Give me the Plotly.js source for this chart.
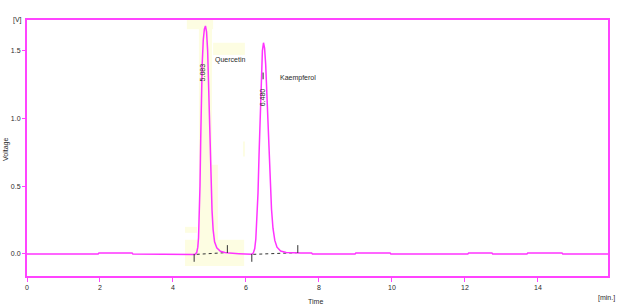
<!DOCTYPE html>
<html>
<head>
<meta charset="utf-8">
<script src="https://cdn.plot.ly/plotly-3.0.1.min.js"></script>
<style>html,body{margin:0;padding:0;background:#fff;}#chart{width:623px;height:307px;}</style>
</head>
<body>
<div id="chart"></div>
<script>
// Chromatogram signal (time in min, voltage in V)
const timeMin = [0, 1.95, 1.97, 2.88, 2.9, 4.45, 4.5,
  4.60, 4.65, 4.68, 4.70, 4.72, 4.74, 4.76, 4.78, 4.80, 4.83, 4.86, 4.89, 4.92, 4.95, 4.98,
  5.01, 5.04, 5.07, 5.10, 5.14, 5.20, 5.30, 5.42, 5.55, 5.8, 6.1,
  6.15, 6.20, 6.24, 6.27, 6.30, 6.33, 6.36, 6.39, 6.42, 6.45, 6.48, 6.51, 6.54, 6.58, 6.62,
  6.66, 6.70, 6.74, 6.79, 6.85, 6.95, 7.10, 7.30, 7.5,
  7.8, 7.82, 8.99, 9.01, 9.95, 9.97, 12.08, 12.1, 12.74, 12.76, 13.70, 13.72, 14.66, 14.68, 15.92];
const voltage = [0, 0, 0.006, 0.006, 0, 0, -0.004,
  -0.004, 0.01, 0.05, 0.12, 0.25, 0.5, 0.85, 1.15, 1.40, 1.58, 1.66, 1.684, 1.64, 1.50, 1.20,
  0.85, 0.55, 0.32, 0.18, 0.09, 0.045, 0.02, 0.011, 0.006, 0.002, 0,
  -0.003, 0.006, 0.04, 0.11, 0.24, 0.45, 0.75, 1.05, 1.32, 1.50, 1.56, 1.52, 1.40, 1.15, 0.85,
  0.55, 0.33, 0.19, 0.10, 0.05, 0.022, 0.011, 0.007, 0.006,
  0.006, 0, 0, 0.006, 0.006, 0, 0, 0.006, 0.006, 0, 0, 0.006, 0.006, 0, 0];

// Peaks
const peakNames = ["Quercetin", "Kaempferol"];
const retentionLabels = ["5.083", "6.480"];
const peakStart = [4.58, 6.16];
const peakEnd = [5.49, 7.42];
const baseStartX = [4.65, 6.20];
const baseStartY = [-0.003, -0.003];
const baseEndX = [5.42, 7.39];
const baseEndY = [0.009, 0.009];
const nameX = [5.09, 6.88];
const nameY = [1.432, 1.30];
const rtX = [4.82, 6.45];
const rtY = [1.34, 1.16];
const apexMarkX = [6.47];
const apexMarkY = [1.315];

const xTicks = [0, 2, 4, 6, 8, 10, 12, 14];
const yTicks = [0.0, 0.5, 1.0, 1.5];

const MAG = '#ff44ff';
const TXT = '#2a2a2a';
const FONT = 'Liberation Sans, Arial, sans-serif';

const traces = [];
// integration baselines (dotted)
for (let i = 0; i < peakNames.length; i++) {
  traces.push({x: [baseStartX[i], baseEndX[i]], y: [baseStartY[i], baseEndY[i]], mode: 'lines',
    line: {color: '#333', width: 1, dash: 'dot'}, hoverinfo: 'skip', showlegend: false});
}
// main signal
traces.push({x: timeMin, y: voltage, mode: 'lines', line: {color: '#ff33ff', width: 1.5},
  hoverinfo: 'skip', showlegend: false});
// start / end markers
const mx = [], my = [];
const TL = 0.058;
for (let i = 0; i < peakStart.length; i++) {
  mx.push(peakStart[i], peakStart[i], null); my.push(0, -TL, null);
  mx.push(peakEnd[i], peakEnd[i], null); my.push(0.007, 0.007 + TL, null);
}
for (let i = 0; i < apexMarkX.length; i++) {
  mx.push(apexMarkX[i], apexMarkX[i], null); my.push(apexMarkY[i] - 0.025, apexMarkY[i] + 0.025, null);
}
traces.push({x: mx, y: my, mode: 'lines', line: {color: '#333', width: 1}, hoverinfo: 'skip', showlegend: false});

// faint yellow highlight boxes behind the first peak
const Y = '#fdfde2';
const boxes = [
  [4.71, 5.07, -0.081, 1.70],
  [4.38, 5.10, 1.66, 1.73],
  [5.10, 5.97, 1.47, 1.56],
  [4.96, 5.23, 0.104, 0.659],
  [4.33, 4.66, 0.156, 0.20],
  [4.33, 5.95, -0.089, 0.104],
  [5.92, 5.97, 0.719, 0.83]
];
const shapes = boxes.map(b => ({type: 'rect', xref: 'x', yref: 'y', x0: b[0], x1: b[1], y0: b[2], y1: b[3],
  fillcolor: Y, line: {width: 0}, layer: 'below'}));

const annotations = [];
for (let i = 0; i < peakNames.length; i++) {
  annotations.push({x: nameX[i], y: nameY[i], xref: 'x', yref: 'y', text: peakNames[i], showarrow: false,
    xanchor: 'left', yanchor: 'middle', font: {family: FONT, size: 7, color: TXT}});
  annotations.push({x: rtX[i], y: rtY[i], xref: 'x', yref: 'y', text: retentionLabels[i], showarrow: false,
    textangle: -90, xanchor: 'center', yanchor: 'middle', font: {family: FONT, size: 7, color: TXT}});
}
annotations.push({x: 0, y: 1, xref: 'paper', yref: 'paper', xshift: -10, text: '[V]', showarrow: false,
  xanchor: 'center', yanchor: 'middle', font: {family: FONT, size: 7, color: TXT}});
annotations.push({x: 0, y: 0.492, xref: 'paper', yref: 'paper', xshift: -21, text: 'Voltage', showarrow: false,
  textangle: -90, xanchor: 'center', yanchor: 'middle', font: {family: FONT, size: 7, color: TXT}});
annotations.push({x: 0.497, y: 0, xref: 'paper', yref: 'paper', yshift: -25, text: 'Time', showarrow: false,
  xanchor: 'center', yanchor: 'middle', font: {family: FONT, size: 7, color: TXT}});
annotations.push({x: 0.998, y: 0, xref: 'paper', yref: 'paper', yshift: -22, text: '[min.]', showarrow: false,
  xanchor: 'center', yanchor: 'middle', font: {family: FONT, size: 7, color: TXT}});

const layout = {
  width: 623, height: 307,
  margin: {l: 27, r: 15, t: 20, b: 31, pad: 0},
  paper_bgcolor: '#fff', plot_bgcolor: '#fff',
  font: {family: FONT, size: 7, color: TXT},
  xaxis: {range: [0, 15.92], tickvals: xTicks, ticktext: xTicks.map(String), showgrid: false, zeroline: false,
    showline: true, linecolor: MAG, linewidth: 2, mirror: true, ticks: 'outside', ticklen: 4, tickcolor: MAG,
    tickwidth: 1, tickfont: {family: FONT, size: 7, color: TXT}},
  yaxis: {range: [-0.163, 1.728], tickvals: yTicks, ticktext: yTicks.map(v => v.toFixed(1)), showgrid: false,
    zeroline: false, showline: true, linecolor: MAG, linewidth: 2, mirror: true, ticks: 'outside', ticklen: 3,
    tickcolor: MAG, tickwidth: 1, tickfont: {family: FONT, size: 7, color: TXT}},
  shapes: shapes,
  annotations: annotations,
  showlegend: false
};

Plotly.newPlot('chart', traces, layout, {staticPlot: true, displayModeBar: false});
</script>
</body>
</html>
